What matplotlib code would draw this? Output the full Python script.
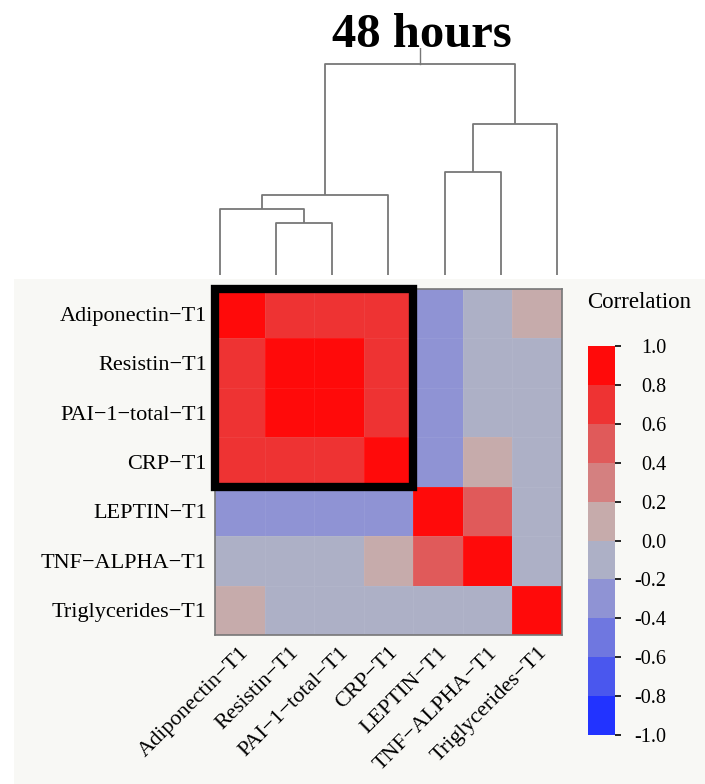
import numpy as np
import matplotlib.pyplot as plt
from matplotlib.colors import ListedColormap, BoundaryNorm
from matplotlib.patches import Rectangle

plt.rcParams['font.family'] = ['Liberation Serif', 'DejaVu Serif']
plt.rcParams['axes.unicode_minus'] = False

labels = ['Adiponectin\u2212T1', 'Resistin\u2212T1', 'PAI\u22121\u2212total\u2212T1', 'CRP\u2212T1',
          'LEPTIN\u2212T1', 'TNF\u2212ALPHA\u2212T1', 'Triglycerides\u2212T1']

corr = np.array([
    [1.0, 0.7, 0.7, 0.7, -0.3, -0.1, 0.1],
    [0.7, 1.0, 0.9, 0.7, -0.3, -0.1, -0.1],
    [0.7, 0.9, 1.0, 0.7, -0.3, -0.1, -0.1],
    [0.7, 0.7, 0.7, 1.0, -0.3, 0.1, -0.1],
    [-0.3, -0.3, -0.3, -0.3, 1.0, 0.5, -0.1],
    [-0.1, -0.1, -0.1, 0.1, 0.5, 1.0, -0.1],
    [0.1, -0.1, -0.1, -0.1, -0.1, -0.1, 1.0],
])

# linkage: (left node, right node, height); leaves 0..6, new nodes 7..
merges = [
    (1, 2, 0.53),
    (0, 7, 0.67),
    (8, 3, 0.81),
    (4, 5, 1.04),
    (10, 6, 1.53),
    (9, 11, 2.14),
]
root_top = 2.30

# 10 discrete colour bins from -1 to 1
bin_colors = ['#2233ff', '#4a57ee', '#6f77e0', '#8f93d4', '#adb0c6',
              '#c6abab', '#d48080', '#e05a5a', '#ee3333', '#ff0a0a']
bounds = np.linspace(-1, 1, 11)
cmap = ListedColormap(bin_colors)
norm = BoundaryNorm(bounds, cmap.N)

W, H = 705, 784
fig = plt.figure(figsize=(W / 100, H / 100), dpi=100)
fig.patch.set_facecolor('white')


def px_axes(x0, y0, x1, y1, **kw):
    return fig.add_axes([x0 / W, 1 - y1 / H, (x1 - x0) / W, (y1 - y0) / H], **kw)


# light panel behind heatmap and legend
bg = px_axes(14, 279, W, H)
bg.set_facecolor('#f8f8f5')
bg.set_xticks([]); bg.set_yticks([])
for s in bg.spines.values():
    s.set_visible(False)

# heatmap
n = len(labels)
ax = px_axes(215, 289, 562, 635)
ax.pcolormesh(np.arange(n + 1), np.arange(n + 1), corr, cmap=cmap, norm=norm,
              edgecolor=(1, 1, 1, 0.06), linewidth=0.5)
ax.set_xlim(0, n)
ax.set_ylim(n, 0)
ax.set_xticks(np.arange(n) + 0.5)
ax.set_yticks(np.arange(n) + 0.5)
ax.set_xticklabels(labels, rotation=45, ha='right', va='top', rotation_mode='anchor', fontsize=16)
ax.set_yticklabels(labels, fontsize=16)
ax.tick_params(length=0, pad=6)
for s in ax.spines.values():
    s.set_color('#777777')
    s.set_linewidth(1.2)
ax.add_patch(Rectangle((0, 0), 4, 4, fill=False, edgecolor='black', linewidth=6,
                       clip_on=False, zorder=5))

# dendrogram above columns
dax = px_axes(215, 48, 562, 275)
pos = {i: float(i) for i in range(n)}
hgt = {i: 0.0 for i in range(n)}
for k, (a, b, h) in enumerate(merges):
    xa, xb = pos[a], pos[b]
    dax.plot([xa, xa, xb, xb], [hgt[a], h, h, hgt[b]], color='#777777', lw=1.3,
             solid_capstyle='butt')
    pos[n + k] = (xa + xb) / 2
    hgt[n + k] = h
root = n + len(merges) - 1
dax.plot([pos[root], pos[root]], [hgt[root], root_top], color='#777777', lw=1.0)
dax.set_xlim(-0.089, 6.089)
dax.set_ylim(0, root_top)
dax.axis('off')

fig.text(422 / W, 1 - 47 / H, '48 hours', ha='center', va='baseline',
         fontsize=35, fontweight='bold', zorder=10)

# colour legend
cax = px_axes(588, 346, 615, 735)
cb = fig.colorbar(plt.cm.ScalarMappable(norm=norm, cmap=cmap), cax=cax,
                  boundaries=bounds, ticks=bounds)
cb.outline.set_visible(False)
cb.set_ticklabels(['%.1f' % t for t in bounds])
cax.tick_params(labelsize=14.5, length=4, width=1.2, pad=33)
for lab in cax.get_yticklabels():
    lab.set_horizontalalignment('right')
for t, c in zip(cax.yaxis.get_major_ticks(), [bin_colors[0]] + bin_colors):
    t.tick2line.set_color(c)
    t.tick1line.set_color(c)
fig.text(587 / W, 1 - 302 / H, 'Correlation', ha='left', va='center', fontsize=16.5)

fig.savefig('out.png', dpi=100)
